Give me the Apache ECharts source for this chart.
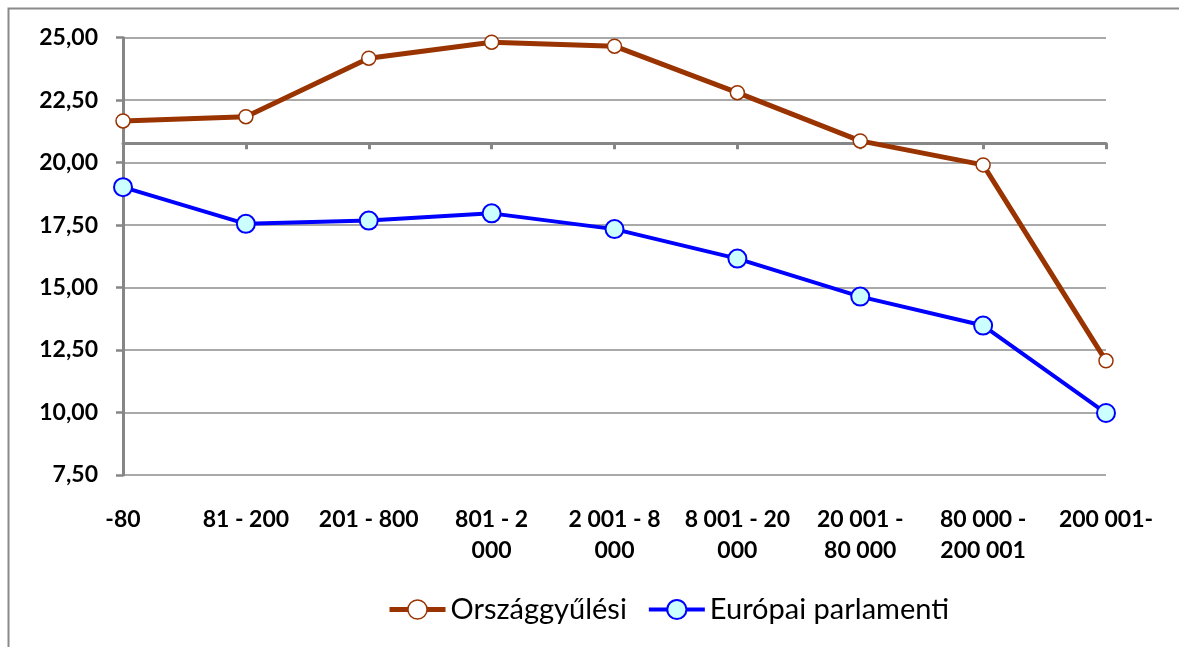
<!DOCTYPE html>
<html>
<head>
<meta charset="utf-8">
<script src="https://cdn.jsdelivr.net/npm/echarts@6/dist/echarts.min.js"></script>
<style>
html,body{margin:0;padding:0;background:#fff;}
#chart{width:1179px;height:647px;}
</style>
</head>
<body>
<div id="chart"></div>
<script>
// ---- data ----
const categories = ['-80', '81 - 200', '201 - 800', '801 - 2\n000', '2 001 - 8\n000', '8 001 - 20\n000', '20 001 -\n80 000', '80 000 -\n200 001', '200 001-'];
const orszaggyulesi = [21.67, 21.84, 24.18, 24.82, 24.66, 22.80, 20.87, 19.91, 12.07];
const europai = [19.02, 17.55, 17.68, 17.97, 17.34, 16.16, 14.64, 13.48, 9.98];
const seriesNames = ['Országgyűlési', 'Európai parlamenti'];
const yMin = 7.5, yMax = 25, yInterval = 2.5;
const xAxisCrossValue = 20.78; // where the horizontal axis line crosses

const FONT = 'Lato, "Open Sans", sans-serif';
const AXIS_GREY = '#868686';
const BROWN = '#993300', BLUE = '#0000ff';

const chart = echarts.init(document.getElementById('chart'), null, {renderer: 'canvas'});
chart.setOption({
  animation: false,
  backgroundColor: '#fff',
  graphic: [{
    type: 'rect',
    shape: {x: 8.5, y: 8.5, width: 1400, height: 900},
    style: {fill: 'none', stroke: '#8a8a8a', lineWidth: 2},
    silent: true,
    z: -10
  }],
  grid: {left: 123, right: 73, top: 37.7, bottom: 172, containLabel: false},
  legend: {
    left: 387, top: 595, padding: 0,
    itemWidth: 56, itemHeight: 24, itemGap: 20,
    textStyle: {fontFamily: FONT, fontSize: 29, color: '#000'},
    data: [
      {name: seriesNames[0], lineStyle: {width: 5, color: BROWN}, itemStyle: {color: '#fff', borderColor: BROWN, borderWidth: 1.5}},
      {name: seriesNames[1], lineStyle: {width: 4, color: BLUE}, itemStyle: {color: '#ccffff', borderColor: BLUE, borderWidth: 2}}
    ]
  },
  xAxis: [{
    type: 'category',
    data: categories,
    boundaryGap: false,
    position: 'bottom',
    axisLine: {show: false, onZero: false},
    axisTick: {show: false},
    axisLabel: {
      interval: 0, margin: 29,
      fontFamily: FONT, fontSize: 23, fontWeight: 'bold', color: '#000', lineHeight: 31,
      align: 'center', verticalAlign: 'top'
    },
    splitLine: {show: false}
  }, {
    type: 'category',
    data: categories,
    boundaryGap: false,
    position: 'bottom',
    axisLine: {show: true, onZero: true, onZeroAxisIndex: 1, lineStyle: {color: AXIS_GREY, width: 3}},
    axisTick: {show: true, inside: false, length: 6, alignWithLabel: true, lineStyle: {color: AXIS_GREY, width: 3}},
    axisLabel: {show: false},
    splitLine: {show: false}
  }],
  yAxis: [{
    type: 'value',
    min: yMin, max: yMax, interval: yInterval,
    axisLine: {show: true, lineStyle: {color: AXIS_GREY, width: 3}},
    axisTick: {show: true, length: 7, lineStyle: {color: AXIS_GREY, width: 2.5}},
    axisLabel: {
      margin: 25,
      fontFamily: FONT, fontSize: 23, fontWeight: 'bold', color: '#000',
      formatter: v => v.toFixed(2).replace('.', ',')
    },
    splitLine: {show: true, lineStyle: {color: '#8c8c8c', width: 1.5}}
  }, {
    type: 'value',
    show: false,
    min: yMin - xAxisCrossValue, max: yMax - xAxisCrossValue,
    splitLine: {show: false}
  }],
  series: [{
    name: seriesNames[0],
    type: 'line',
    data: orszaggyulesi,
    xAxisIndex: 0, yAxisIndex: 0,
    symbol: 'circle', symbolSize: 14,
    lineStyle: {color: BROWN, width: 5},
    itemStyle: {color: '#ffffff', borderColor: BROWN, borderWidth: 1.5},
    z: 3
  }, {
    name: seriesNames[1],
    type: 'line',
    data: europai,
    xAxisIndex: 0, yAxisIndex: 0,
    symbol: 'circle', symbolSize: 18,
    lineStyle: {color: BLUE, width: 4},
    itemStyle: {color: '#ccffff', borderColor: BLUE, borderWidth: 2},
    z: 3
  }]
});
</script>
</body>
</html>
